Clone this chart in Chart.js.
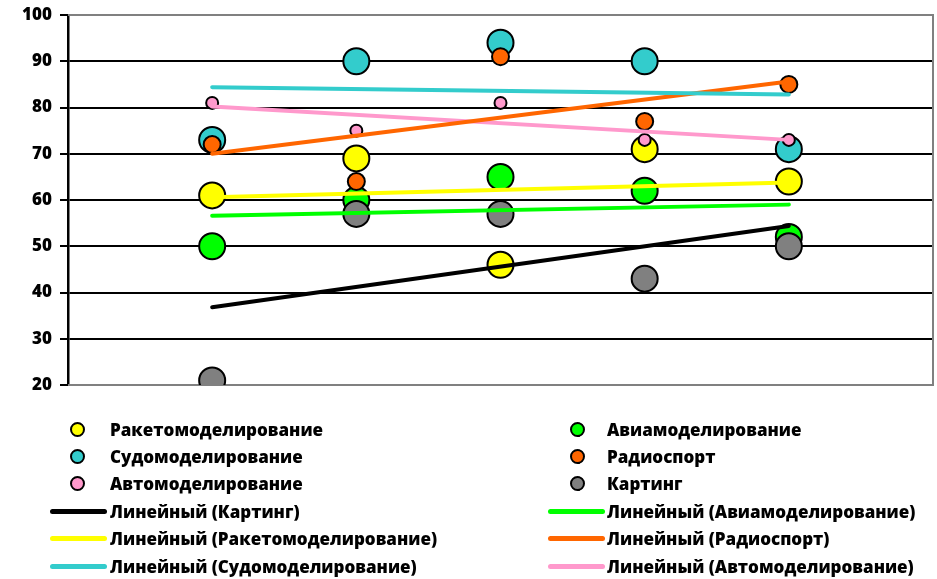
<!DOCTYPE html>
<html>
<head>
<meta charset="utf-8">
<script src="https://cdn.jsdelivr.net/npm/chart.js@4/dist/chart.umd.min.js"></script>
<style>
    body { margin: 0; background: #fff; }
    #wrap { position: relative; width: 937px; height: 579px; }
    #chart { position: absolute; left: 0; top: 0; }
    .item { position: absolute; height: 24px; display: flex; align-items: center;
            font: 800 17px "Open Sans", sans-serif; color: #000; white-space: nowrap; }
    .dot { position: absolute; width: 11px; height: 11px; border: 2px solid #000; border-radius: 50%; }
    .bar { position: absolute; height: 5px; border-radius: 3px; }
</style>
</head>
<body>
<div id="wrap">
    <canvas id="chart" width="937" height="579"></canvas>
    <div id="legend"></div>
</div>
<script>
// data
const categories = [1, 2, 3, 4, 5];
const raketo = [61, 69, 46, 71, 64];
const avia = [50, 60, 65, 62, 52];
const sudo = [73, 90, 94, 90, 71];
const radio = [72, 64, 91, 77, 85];
const avto = [81, 75, 81, 73, 73];
const karting = [21, 57, 57, 43, 50];
const yTicks = [20, 30, 40, 50, 60, 70, 80, 90, 100];

const names = ['Ракетомоделирование', 'Авиамоделирование', 'Судомоделирование',
    'Радиоспорт', 'Автомоделирование', 'Картинг'];
const values = [raketo, avia, sudo, radio, avto, karting];
const colors = ['#FFFF00', '#00FF00', '#33CCCC', '#FF6600', '#FF99CC', '#808080'];
const lineColors = ['#FFFF00', '#00FF00', '#33CCCC', '#FF6600', '#FF99CC', '#000000'];
const radii = [13, 13, 13, 8.5, 6, 13];
const drawOrder = [6, 5, 4, 3, 2, 1];

// linear trend (least squares), same as Excel "Линейный"
function trend(ys) {
    const n = categories.length;
    const mx = categories.reduce((a, b) => a + b, 0) / n;
    const my = ys.reduce((a, b) => a + b, 0) / n;
    let sxy = 0, sxx = 0;
    categories.forEach((x, i) => {
        sxy += (x - mx) * (ys[i] - my);
        sxx += (x - mx) * (x - mx);
    });
    const k = sxy / sxx;
    const first = categories[0], last = categories[n - 1];
    return [{ x: first, y: my + k * (first - mx) }, { x: last, y: my + k * (last - mx) }];
}

const datasets = [];
values.forEach((ys, i) => {
    datasets.push({
        type: 'scatter',
        label: names[i],
        data: categories.map((x, j) => ({ x: x, y: ys[j] })),
        backgroundColor: colors[i],
        borderColor: '#000',
        borderWidth: 2,
        pointRadius: radii[i],
        order: drawOrder[i],
    });
    datasets.push({
        type: 'line',
        label: 'Линейный (' + names[i] + ')',
        data: trend(ys),
        borderColor: lineColors[i],
        borderWidth: 4,
        borderCapStyle: 'round',
        pointRadius: 0,
        fill: false,
        order: 0,
    });
});

const frame = {
    id: 'frame',
    beforeDatasetsDraw: (chart) => {
        const { ctx, chartArea } = chart;
        ctx.save();
        ctx.strokeStyle = '#808080';
        ctx.lineWidth = 2;
        ctx.beginPath();
        ctx.moveTo(chartArea.left, chartArea.top);
        ctx.lineTo(chartArea.right, chartArea.top);
        ctx.lineTo(chartArea.right, chartArea.bottom);
        ctx.lineTo(chartArea.left, chartArea.bottom);
        ctx.stroke();
        ctx.restore();
    }
};

const ctx = document.getElementById('chart');
const myChart = new Chart(ctx, {
    data: { datasets: datasets },
    options: {
        responsive: false,
        animation: false,
        layout: { autoPadding: false, padding: { top: 15, right: 4, bottom: 194, left: 0 } },
        plugins: {
            legend: { display: false },
            tooltip: { enabled: false },
        },
        scales: {
            x: { type: 'linear', min: 0, max: 6, display: false },
            y: {
                type: 'linear',
                min: yTicks[0],
                max: yTicks[yTicks.length - 1],
                afterBuildTicks: (scale) => { scale.ticks = yTicks.map(v => ({ value: v })); },
                afterFit: (scale) => {
                    scale.width = 68;
                    scale.paddingTop = 0;
                    scale.paddingBottom = 0;
                },
                ticks: {
                    color: '#000',
                    padding: 8,
                    font: { family: 'Open Sans', weight: '800', size: 17 },
                },
                grid: {
                    color: (c) => (c.tick && (c.tick.value === 20 || c.tick.value === 100)) ? '#808080' : '#000',
                    tickColor: '#000',
                    lineWidth: 2,
                    tickLength: 8,
                },
                border: { color: '#000', width: 2.5 },
            },
        },
    },
    plugins: [frame],
});

// legend in two columns, Excel order
const legendOrder = [
    [names[0], colors[0], 'dot'], [names[1], colors[1], 'dot'],
    [names[2], colors[2], 'dot'], [names[3], colors[3], 'dot'],
    [names[4], colors[4], 'dot'], [names[5], colors[5], 'dot'],
    ['Линейный (' + names[5] + ')', lineColors[5], 'bar'], ['Линейный (' + names[1] + ')', lineColors[1], 'bar'],
    ['Линейный (' + names[0] + ')', lineColors[0], 'bar'], ['Линейный (' + names[3] + ')', lineColors[3], 'bar'],
    ['Линейный (' + names[2] + ')', lineColors[2], 'bar'], ['Линейный (' + names[4] + ')', lineColors[4], 'bar'],
];
const legend = document.getElementById('legend');
legendOrder.forEach((it, i) => {
    const col = i % 2, row = Math.floor(i / 2);
    const cy = 429 + row * 27.4;
    const textX = col ? 607 : 110;
    const el = document.createElement('div');
    el.className = 'item';
    el.style.left = textX + 'px';
    el.style.top = (cy - 12) + 'px';
    el.textContent = it[0];
    legend.appendChild(el);
    const mark = document.createElement('div');
    mark.className = it[2];
    mark.style.background = it[1];
    if (it[2] === 'dot') {
        mark.style.left = ((col ? 577 : 77) - 7.5) + 'px';
        mark.style.top = (cy - 7.5) + 'px';
    } else {
        mark.style.left = (col ? 548 : 50) + 'px';
        mark.style.width = '57px';
        mark.style.top = (cy - 2.5) + 'px';
    }
    legend.appendChild(mark);
});
</script>
</body>
</html>
